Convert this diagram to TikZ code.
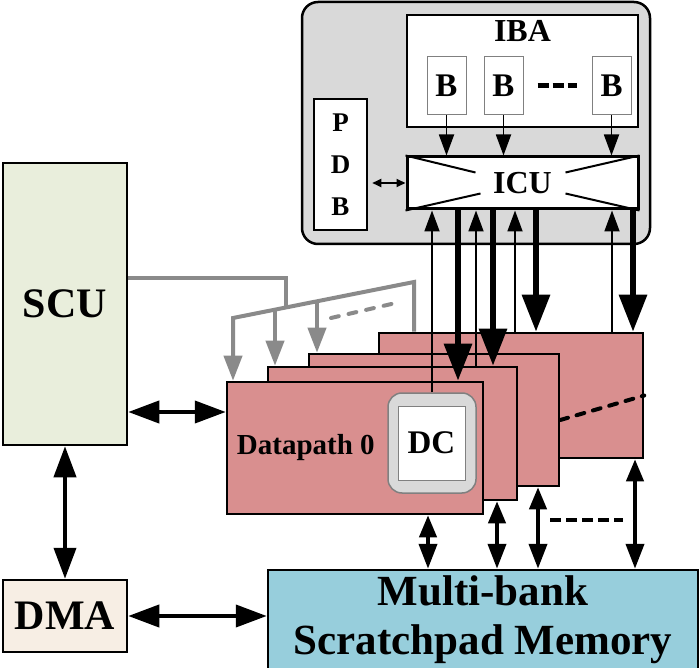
\documentclass[tikz,border=0pt]{standalone}
\usepackage{fontspec}
\setmainfont{Liberation Serif}
\usetikzlibrary{arrows.meta}
\definecolor{CtrlGray}{HTML}{D9D9D9}
\definecolor{DpRed}{HTML}{D98F8F}
\definecolor{MemBlue}{HTML}{97CEDC}
\definecolor{ScuGreen}{HTML}{E9EEDC}
\definecolor{DmaBeige}{HTML}{F7EEE4}
\definecolor{WireGray}{HTML}{8A8A8A}
\newcommand{\bfsz}[1]{\fontsize{#1}{#1}\selectfont\bfseries}

\begin{document}
\begin{tikzpicture}[x=1pt,y=-1pt,
    blk/.style={draw,line width=2.5pt,inner sep=0pt},
    bbox/.style={draw=gray,line width=1pt,fill=white,inner sep=0pt,minimum width=39pt,minimum height=58pt,font=\bfsz{33}},
    dp/.style={draw,line width=2.5pt,fill=DpRed,inner sep=0pt},
    thinarr/.style={line width=1.8pt,-{Triangle[length=21pt,width=15pt]}},
    smallarr/.style={line width=1.8pt,{Triangle[length=9pt,width=8pt]}-{Triangle[length=9pt,width=8pt]}},
    bigarr/.style={line width=6pt,line cap=round,-{Triangle[length=37pt,width=27pt]}},
    dblarr/.style={line width=4pt,{Triangle[length=31pt,width=22pt]}-{Triangle[length=31pt,width=22pt]}},
    busarr/.style={line width=4pt,{Triangle[length=22pt,width=17pt]}-{Triangle[length=25pt,width=18pt]}},
    grayln/.style={WireGray,line width=4pt},
    grayarr/.style={grayln,-{Triangle[length=25pt,width=18pt]}},
    dashln/.style={line width=4pt,dash pattern=on 11pt off 5pt}]

            \useasboundingbox (0,0) rectangle (699,668);

            \node[blk,fill=CtrlGray,rounded corners=16pt,minimum width=348pt,minimum height=242pt] (ctrl) at (476,123) {};
            \node[blk,fill=white,minimum width=231pt,minimum height=112pt,
                label={[anchor=north,inner sep=0pt,yshift=-6pt,font=\bfsz{32}]north:IBA}] (iba) at (522.5,71) {};
            \node[bbox] (b1) at (446.5,86) {B};
            \node[bbox] (b2) at (503.5,86) {B};
            \node[bbox] (b3) at (611.5,86) {B};
            \draw[line width=5pt,dash pattern=on 11pt off 4pt] ([xshift=14pt]b2.east) -- ([xshift=-15pt]b3.west);

            \node[blk,line width=3pt,fill=white,minimum width=231pt,minimum height=52pt,font=\bfsz{32}] (icu) at (522.5,183) {ICU};
            \draw[line width=2pt] (icu.north west) -- ++(70,17);
            \draw[line width=2pt] (icu.south west) -- ++(75,-17);
            \draw[line width=2pt] (icu.north east) -- ++(-74,17);
            \draw[line width=2pt] (icu.south east) -- ++(-74,-17);

            \node[blk,fill=white,minimum width=53pt,minimum height=131pt,align=center,
                font=\fontsize{27}{42}\selectfont\bfseries] (pdb) at (340.5,164.5) {P\\D\\B};

            \draw[thinarr] (b1.south) -- (b1.south |- icu.north);
            \draw[thinarr] (b2.south) -- (b2.south |- icu.north);
            \draw[thinarr] (b3.south) -- (b3.south |- icu.north);
            \draw[smallarr,shorten <=4pt] (pdb.east |- icu.west) -- (icu.west);

            \node[blk,fill=ScuGreen,minimum width=124pt,minimum height=282pt,font=\bfsz{42}] (scu) at (65,304) {SCU};
            \node[blk,fill=DmaBeige,minimum width=124pt,minimum height=72pt,font=\bfsz{42}] (dma) at (65,616) {DMA};
            \node[blk,fill=MemBlue,minimum width=430pt,minimum height=100pt,align=center,
                font=\fontsize{43}{49}\selectfont\bfseries] (mem) at (483,620) {Multi-bank\\Scratchpad Memory};

            \node[dp,minimum width=264pt,minimum height=125pt] (dp3) at (511,395.5) {};
            \node[dp,minimum width=250pt,minimum height=132pt] (dp2) at (434,420) {};
            \node[dp,minimum width=249pt,minimum height=133pt] (dp1) at (392.5,433.5) {};
            \node[dp,minimum width=256pt,minimum height=132pt,
                label={[anchor=west,inner sep=0pt,xshift=11pt,font=\bfsz{29}]west:Datapath 0}] (dp0) at (355,448) {};
            \draw[line width=4pt,line cap=round,dash pattern=on 8pt off 9pt] (dp2.east) -- (dp3.east);

            \node[draw=gray,line width=1.5pt,fill=CtrlGray,rounded corners=14pt,minimum width=88pt,minimum height=100pt] (dcwrap) at (432,443) {};
            \node[draw=gray,line width=1pt,fill=white,inner sep=0pt,minimum width=67pt,minimum height=74pt,font=\bfsz{33}] (dc) at (431.5,443) {DC};

            \draw[thinarr] (dcwrap.north) -- (dcwrap.north |- icu.south);
            \draw[bigarr] (icu.south -| 458,0) -- (dp0.north -| 458,0);
            \draw[thinarr] (dp1.north -| 476,0) -- (icu.south -| 476,0);
            \draw[bigarr] (icu.south -| 493,0) -- (dp1.north -| 493,0);
            \draw[thinarr] (dp3.north -| 515,0) -- (icu.south -| 515,0);
            \draw[bigarr] (icu.south -| 536,0) -- (dp3.north -| 536,0);
            \draw[thinarr] (dp3.north -| 612,0) -- (icu.south -| 612,0);
            \draw[bigarr] (icu.south -| 633,0) -- (dp3.north -| 633,0);

            \coordinate (g0) at (233,318);
            \coordinate (g1) at (275,309.6);
            \coordinate (gj) at (286,307.5);
            \coordinate (g2) at (317,301.3);
            \coordinate (g3) at (414,282);
            \coordinate (gd0) at (331,318);
            \coordinate (gd1) at (400,302);
            \draw[grayln] (scu.east |- 0,278) -| (gj);
            \draw[grayarr,{Triangle[length=25pt,width=18pt]}-] (g0 |- dp0.north) -- (g0) -- (g3) -- (g3 |- dp3.north);
            \draw[grayarr] (g1) -- (g1 |- dp1.north);
            \draw[grayarr] (g2) -- (g2 |- dp2.north);
            \draw[grayln,line cap=round,dash pattern=on 8pt off 10pt] (gd0) -- (gd1);

            \draw[dblarr] (scu.east |- 0,412) -- (dp0.west |- 0,412);
            \draw[dblarr] (scu.south) -- (dma.north);
            \draw[dblarr] (dma.east) -- (mem.west |- dma.east);

            \draw[busarr] (dp0.south -| 428,0) -- (mem.north -| 428,0);
            \draw[busarr] (dp1.south -| 497,0) -- (mem.north -| 497,0);
            \draw[busarr] (dp2.south -| 538,0) -- (mem.north -| 538,0);
            \draw[busarr] (dp3.south -| 635,0) -- (mem.north -| 635,0);
            \coordinate (md0) at (550,520);
            \coordinate (md1) at (623,520);
            \draw[dashln] (md0) -- (md1);
            \end{tikzpicture}
\end{document}
